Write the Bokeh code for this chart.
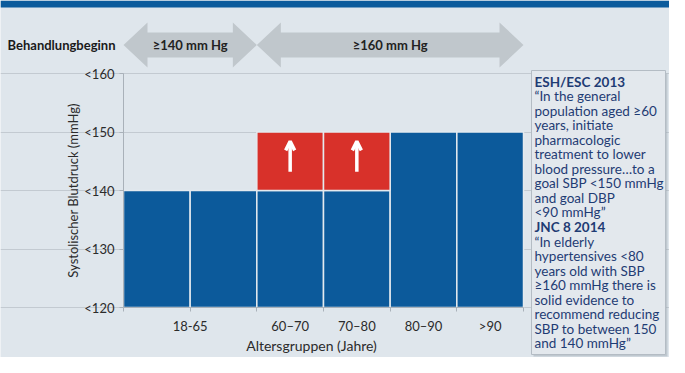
from bokeh.plotting import figure
from bokeh.models import (Range1d, FixedTicker, ColumnDataSource, Arrow, OpenHead,
                          CustomJSTickFormatter, LinearAxis, Grid)
from bokeh.embed import file_html
from bokeh.resources import INLINE
from bokeh.core.properties import value

# ---------------- data ----------------
col_index = [0, 1, 2, 3, 4, 5]
base_target = [140, 140, 140, 140, 150, 150]
raised_target = [None, None, 150, 150, None, None]
group_labels = ["18-65", "60–70", "70–80", "80–90", ">90"]
group_start = [0, 2, 3, 4, 5]
group_end = [2, 3, 4, 5, 6]
y_ticks = [120, 130, 140, 150, 160]
y_tick_labels = ["<120", "<130", "<140", "<150", "<160"]
threshold_labels = ["≥140 mm Hg", "≥160 mm Hg"]
threshold_start = [0, 2]
threshold_end = [2, 6]
header_title = "Behandlungbeginn"
x_title = "Altersgruppen (Jahre)"
y_title = "Systolischer Blutdruck (mmHg)"
box_lines = ["ESH/ESC 2013", "“In the general", "population aged ≥60", "years, initiate",
             "pharmacologic", "treatment to lower", "blood pressure…to a",
             "goal SBP <150 mmHg", "and goal DBP", "<90 mmHg”", "JNC 8 2014",
             "“In elderly", "hypertensives <80", "years old with SBP", "≥160 mmHg there is",
             "solid evidence to", "recommend reducing", "SBP to between 150", "and 140 mmHg”"]
box_bold = [True] + [False] * 9 + [True] + [False] * 8

# ---------------- style / layout (pixels) ----------------
BG = "#dfe6ec"
BAND = "#0b5b9c"
BLUE = "#0c5a9b"
RED = "#d8312a"
SEP = "#e4eaef"
ARROW_GREY = "#c0c7cc"
AXIS = "#a9b1b9"
TXT = "#2b2b2b"
NAVY = "#1f3c74"
FONT = "Lato"
W, H = 669, 357
BAND_H = 7
FRAME_L, FRAME_W = 123, 400      # plot area left edge and width
FRAME_T, FRAME_H = 73, 234       # plot area top edge and height
HDR_CY, HEAD_HALF, BODY_HALF, HEAD_LEN = 44.5, 22.5, 12.5, 24
BOX_L, BOX_R, BOX_T, BOX_B = 531, 665, 70, 354
LINE0, LINE_STEP = 81, 14.55
XLAB_X, XLAB_Y = 311, 345

x_lo, x_hi = min(group_start), max(group_end)
y_lo, y_hi = min(y_ticks), max(y_ticks)
ppx = FRAME_W / (x_hi - x_lo)
ppy = FRAME_H / (y_hi - y_lo)
x_start = x_lo - FRAME_L / ppx
x_end = x_start + W / ppx
y_end = y_hi + FRAME_T / ppy
y_start = y_end - H / ppy


def XP(px):
    return x_start + px / ppx


def YP(py):
    return y_end - py / ppy


p = figure(width=W, height=H, x_range=Range1d(x_start, x_end), y_range=Range1d(y_start, y_end),
           x_axis_type=None, y_axis_type=None, output_backend="svg", toolbar_location=None,
           title=None, min_border=0, background_fill_color=BG, border_fill_color=BG,
           outline_line_color=None)

# top band
p.quad(left=[x_start], right=[x_end], top=[y_end], bottom=[YP(BAND_H)], fill_color=BAND, line_color=None)

# grid (only across the bar area)
ytick = FixedTicker(ticks=y_ticks)
p.add_layout(Grid(dimension=1, ticker=ytick, bounds=(x_lo, x_hi), grid_line_color="#c3cad1"))

# bars
base_src = ColumnDataSource(dict(left=col_index, right=[c + 1 for c in col_index],
                                 bottom=[y_lo] * len(col_index), top=base_target))
p.quad(left="left", right="right", bottom="bottom", top="top", source=base_src,
       fill_color=BLUE, line_color=SEP, line_width=1.5)

rc = [c for c, r in zip(col_index, raised_target) if r is not None]
rb = [b for b, r in zip(base_target, raised_target) if r is not None]
rt = [r for r in raised_target if r is not None]
red_src = ColumnDataSource(dict(left=rc, right=[c + 1 for c in rc], bottom=rb, top=rt))
p.quad(left="left", right="right", bottom="bottom", top="top", source=red_src,
       fill_color=RED, line_color=SEP, line_width=1.5)

arr_src = ColumnDataSource(dict(x=[c + 0.5 for c in rc],
                                y0=[b + 0.32 * (t - b) for b, t in zip(rb, rt)],
                                y1=[b + 0.84 * (t - b) for b, t in zip(rb, rt)]))
p.add_layout(Arrow(x_start="x", y_start="y0", x_end="x", y_end="y1", source=arr_src,
                   line_color="white", line_width=3.5,
                   end=OpenHead(line_color="white", line_width=3.5, size=9)))

# axes drawn at fixed positions inside the canvas
label_pos = [(s + e) / 2 for s, e in zip(group_start, group_end)]
boundaries = list(range(x_lo, x_hi + 1))
xaxis = LinearAxis(fixed_location=y_lo, bounds=(x_lo, x_hi),
                   ticker=FixedTicker(ticks=label_pos, minor_ticks=boundaries),
                   formatter=CustomJSTickFormatter(args=dict(pos=label_pos, labels=group_labels), code="""
const i = pos.findIndex(v => Math.abs(v - tick) < 1e-6);
return i >= 0 ? labels[i] : "";
"""))
yaxis = LinearAxis(fixed_location=x_lo, bounds=(y_lo, y_hi), ticker=ytick,
                   formatter=CustomJSTickFormatter(args=dict(pos=y_ticks, labels=y_tick_labels), code="""
const i = pos.findIndex(v => Math.abs(v - tick) < 1e-6);
return i >= 0 ? labels[i] : "";
"""))
for ax in (xaxis, yaxis):
    ax.axis_line_color = AXIS
    ax.major_label_text_font = FONT
    ax.major_label_text_color = TXT
    ax.major_label_text_font_size = "13px"
    ax.axis_label_text_font = FONT
    ax.axis_label_text_font_style = "normal"
    ax.axis_label_text_color = TXT
xaxis.major_tick_line_color = None
xaxis.major_tick_out = 0
xaxis.major_tick_in = 0
xaxis.minor_tick_line_color = AXIS
xaxis.minor_tick_out = 4
xaxis.minor_tick_in = 0
xaxis.major_label_standoff = 6
yaxis.major_tick_line_color = AXIS
yaxis.major_tick_out = 4
yaxis.major_tick_in = 0
yaxis.minor_tick_line_color = None
yaxis.major_label_standoff = 5
yaxis.axis_label = y_title
yaxis.axis_label_text_font_size = "13px"
yaxis.axis_label_standoff = 0
p.add_layout(xaxis, "below")
p.add_layout(yaxis, "left")

p.text(x=[XP(XLAB_X)], y=[YP(XLAB_Y)], text=[x_title], text_align="center", text_baseline="middle",
       text_font=value(FONT), text_font_size="14px", text_color=TXT)

# header: treatment-start thresholds as double arrows
hl = HEAD_LEN / ppx
cy, hh, bh = YP(HDR_CY), HEAD_HALF / ppy, BODY_HALF / ppy
xs, ys = [], []
for s, e in zip(threshold_start, threshold_end):
    xs.append([s, s + hl, s + hl, e - hl, e - hl, e, e - hl, e - hl, s + hl, s + hl])
    ys.append([cy, cy + hh, cy + bh, cy + bh, cy + hh, cy, cy - hh, cy - bh, cy - bh, cy - hh])
p.patches(xs=xs, ys=ys, fill_color=ARROW_GREY, line_color=None)
p.text(x=[(s + e) / 2 for s, e in zip(threshold_start, threshold_end)], y=[cy] * 2,
       text=threshold_labels, text_align="center", text_baseline="middle",
       text_font=value(FONT), text_font_style="bold", text_font_size="13px", text_color="#222222")
p.text(x=[x_lo], y=[cy], text=[header_title], text_align="right", text_baseline="middle",
       x_offset=-8, text_font=value(FONT), text_font_style="bold", text_font_size="13px",
       text_color="#1a1a1a")

# guideline text box
p.quad(left=[XP(BOX_L + 2)], right=[XP(BOX_R + 2)], top=[YP(BOX_T + 3)], bottom=[YP(BOX_B + 2)],
       fill_color="#9aa4ae", fill_alpha=0.45, line_color=None)
p.quad(left=[XP(BOX_L)], right=[XP(BOX_R)], top=[YP(BOX_T)], bottom=[YP(BOX_B)],
       fill_color="#e3e8ed", line_color="#b4bcc4", line_width=1)
p.text(x=[XP(BOX_L + 3)] * len(box_lines), y=[YP(LINE0 + i * LINE_STEP) for i in range(len(box_lines))],
       text=box_lines, text_font_style=["bold" if b else "normal" for b in box_bold],
       text_align="left", text_baseline="middle", text_font=value(FONT),
       text_font_size="13.5px", text_color=NAVY)

open("out.html", "w").write(file_html(p, INLINE))
